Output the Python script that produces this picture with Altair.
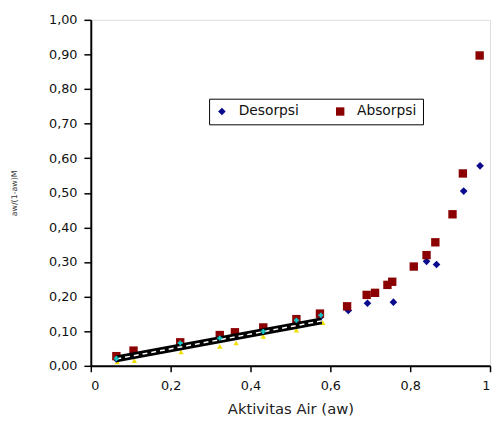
import altair as alt
import pandas as pd

# Desorpsi (blue diamonds)
des_x = [0.064, 0.107, 0.224, 0.323, 0.362, 0.431, 0.515, 0.574,
         0.645, 0.693, 0.758, 0.841, 0.866, 0.934, 0.975]
des_y = [0.020, 0.030, 0.062, 0.084, 0.092, 0.107, 0.125, 0.140,
         0.160, 0.181, 0.184, 0.302, 0.293, 0.505, 0.578]

# Absorpsi (dark red squares)
abs_x = [0.064, 0.107, 0.224, 0.323, 0.361, 0.432, 0.515, 0.574,
         0.642, 0.691, 0.712, 0.743, 0.755, 0.809, 0.841, 0.863,
         0.906, 0.932, 0.974]
abs_y = [0.028, 0.044, 0.068, 0.089, 0.097, 0.111, 0.135, 0.151,
         0.172, 0.205, 0.211, 0.234, 0.243, 0.287, 0.320, 0.357,
         0.438, 0.556, 0.897]

# extra low-range markers (not in legend)
yel_x = [0.066, 0.109, 0.226, 0.323, 0.364, 0.432, 0.515, 0.581]
yel_y = [0.011, 0.015, 0.040, 0.056, 0.066, 0.085, 0.103, 0.125]
cyan_x = [0.064, 0.224, 0.323, 0.432, 0.515, 0.576]
cyan_y = [0.021, 0.066, 0.080, 0.099, 0.132, 0.146]

# fitted line endpoints
fit_x = [0.064, 0.578]
fit_y = [0.020, 0.130]

pts = pd.DataFrame(
    {"x": des_x + abs_x,
     "y": des_y + abs_y,
     "s": ["Desorpsi"] * len(des_x) + ["Absorpsi"] * len(abs_x)}
)
yel = pd.DataFrame({"x": yel_x, "y": yel_y})
cyan = pd.DataFrame({"x": cyan_x, "y": cyan_y})
fit = pd.DataFrame({"x": fit_x, "y": fit_y})

font = "DejaVu Sans"

xscale = alt.Scale(domain=[0, 1], nice=False)
yscale = alt.Scale(domain=[0, 1], nice=False)

xaxis = alt.Axis(
    values=[0, 0.2, 0.4, 0.6, 0.8, 1],
    labelExpr="datum.value == 0 ? '0' : datum.value == 1 ? '1' : replace(format(datum.value, '.1f'), '.', ',')",
    title="Aktivitas Air (aw)", titleFontSize=15, titleFont=font, titleFontWeight="normal",
    titleColor="#222", titlePadding=9,
    labelFont=font, labelFontSize=13, labelColor="#111", labelPadding=8,
    domainColor="black", domainWidth=2, tickColor="black", tickWidth=1.5, tickSize=6,
    grid=False,
)
yaxis = alt.Axis(
    values=[round(i * 0.1, 1) for i in range(11)],
    labelExpr="replace(format(datum.value, '.2f'), '.', ',')",
    title="aw/(1-aw)M", titleFontSize=8, titleFont=font, titleFontWeight="normal",
    titleColor="#333", titlePadding=30,
    labelFont=font, labelFontSize=13, labelColor="#111", labelPadding=7,
    domainColor="black", domainWidth=2, tickColor="black", tickWidth=1.5, tickSize=7,
    grid=False,
)

base_x = alt.X("x:Q", scale=xscale, axis=xaxis)
base_y = alt.Y("y:Q", scale=yscale, axis=yaxis)

series = alt.Chart(pts).mark_point(filled=True, opacity=1).encode(
    x=base_x,
    y=base_y,
    color=alt.Color("s:N", scale=alt.Scale(domain=["Desorpsi", "Absorpsi"], range=["#0a0a8c", "#8b0000"]),
                    legend=alt.Legend(title=None, orient="none", legendX=120, legendY=80,
                                      direction="horizontal", strokeColor="black", fillColor="white",
                                      padding=6, labelFont=font, labelFontSize=14, labelColor="#111",
                                      symbolSize=40, columnPadding=34, labelOffset=10)),
    shape=alt.Shape("s:N", scale=alt.Scale(domain=["Desorpsi", "Absorpsi"], range=["diamond", "square"]),
                    legend=None),
    size=alt.Size("s:N", scale=alt.Scale(domain=["Desorpsi", "Absorpsi"], range=[60, 72]), legend=None),
)

yellow = alt.Chart(yel).mark_point(filled=True, shape="triangle-up", color="#f0e000", size=30, opacity=1).encode(
    x=base_x, y=base_y)
cyanm = alt.Chart(cyan).mark_point(shape="cross", color="#10c8c8", size=25, opacity=1, filled=True).encode(
    x=base_x, y=base_y)

line_black = alt.Chart(fit).mark_line(color="black", strokeWidth=7).encode(x=base_x, y=base_y)
line_white = alt.Chart(fit).mark_line(color="white", strokeWidth=1.5, strokeDash=[5, 4]).encode(x=base_x, y=base_y)

chart = alt.layer(yellow, series, line_black, line_white, cyanm).properties(
    width=405, height=351,
    padding={"left": 84, "top": 9, "right": 2, "bottom": 56},
    autosize=alt.AutoSizeParams(type="none"),
).configure_view(
    stroke="#999", strokeWidth=1.5
).configure_legend(
    strokeWidth=1.5
).configure(background="white")

chart.save("out.html", embed_options={"renderer": "svg", "actions": False})
